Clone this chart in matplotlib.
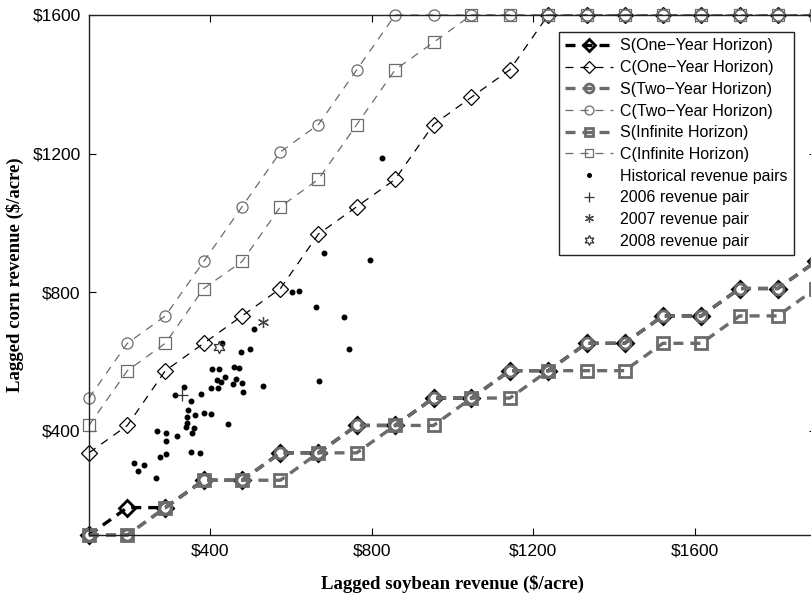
import matplotlib
matplotlib.use("Agg")
import matplotlib.pyplot as plt

# soybean revenue grid ($/acre)
soy_grid = [100, 195, 289, 384, 479, 574, 668, 763, 858, 953,
            1047, 1142, 1237, 1332, 1426, 1521, 1616, 1711, 1805, 1900]

# switching thresholds (corn revenue, $/acre)
s_one = [100, 179, 179, 258, 258, 337, 337, 416, 416, 495,
         495, 574, 574, 653, 653, 732, 732, 811, 811, 889]
c_one = [337, 416, 574, 653, 732, 811, 968, 1047, 1126, 1284,
         1363, 1442, 1600, 1600, 1600, 1600, 1600, 1600, 1600, 1600]
s_two = [100, 100, 179, 258, 258, 337, 337, 416, 416, 495,
         495, 574, 574, 653, 653, 732, 732, 811, 811, 889]
c_two = [495, 653, 732, 889, 1047, 1205, 1284, 1442, 1600, 1600,
         1600, 1600, 1600, 1600, 1600, 1600, 1600, 1600, 1600, 1600]
s_inf = [100, 100, 179, 258, 258, 258, 337, 337, 416, 416,
         495, 495, 574, 574, 574, 653, 653, 732, 732, 811]
c_inf = [416, 574, 653, 811, 889, 1047, 1126, 1284, 1442, 1521,
         1600, 1600, 1600, 1600, 1600, 1600, 1600, 1600, 1600, 1600]

# historical (soybean, corn) revenue pairs
hist_soy = [682, 795, 661, 731, 508, 744, 477, 499, 405, 422,
            460, 472, 436, 416, 428, 464, 457, 478, 336, 402,
            419, 530, 669, 482, 377, 352, 385, 402, 344, 362,
            342, 342, 340, 361, 355, 444, 352, 375, 313, 268,
            290, 290, 318, 276, 290, 212, 237, 222, 266, 429,
            825, 603, 619]
hist_corn = [913, 893, 757, 730, 694, 636, 627, 636, 578, 578,
             585, 581, 555, 546, 542, 549, 536, 539, 526, 523,
             523, 529, 545, 513, 506, 487, 451, 448, 461, 445,
             441, 424, 411, 409, 393, 419, 340, 337, 503, 399,
             393, 372, 386, 326, 334, 309, 302, 285, 264, 653,
             1187, 802, 805]

pair_2006 = [331, 504]
pair_2007 = [530, 713]
pair_2008 = [422, 643]

x_ticks = [400, 800, 1200, 1600]
y_ticks = [400, 800, 1200, 1600]

black = "#000000"
gray = "#6b6b6b"
sans = ["Liberation Sans", "DejaVu Sans"]
serif = ["Liberation Serif", "DejaVu Serif"]

fig = plt.figure(figsize=(8.11, 5.96), dpi=100)
ax = fig.add_axes([89 / 811, 61 / 596, 727 / 811, 520 / 596])

thick = dict(lw=2.4, dashes=(3.0, 2.1), ms=8, mew=2.0, mfc="none", clip_on=False)
thin = dict(lw=0.9, dashes=(6.4, 5.6), ms=8, mew=0.9, mfc="none", clip_on=False)

ax.plot(soy_grid, s_one, marker="D", color=black, label="S(One\u2212Year Horizon)", **thick)
ax.plot(soy_grid, c_one, marker="D", color=black, label="C(One\u2212Year Horizon)", **thin)
ax.plot(soy_grid, s_two, marker="o", color=gray, label="S(Two\u2212Year Horizon)", **thick)
ax.plot(soy_grid, c_two, marker="o", color=gray, label="C(Two\u2212Year Horizon)", **thin)
ax.plot(soy_grid, s_inf, marker="s", color=gray, label="S(Infinite Horizon)", **thick)
ax.plot(soy_grid, c_inf, marker="s", color=gray, label="C(Infinite Horizon)", **thin)

ax.plot(hist_soy, hist_corn, ls="none", marker=".", ms=6.5, color=black,
        label="Historical revenue pairs")
ax.plot(pair_2006[0], pair_2006[1], ls="none", marker="+", ms=9, mew=0.9,
        color="#333333", label="2006 revenue pair")
ax.plot(pair_2007[0], pair_2007[1], ls="none", marker=(6, 2, 0), ms=8, mew=0.9,
        color="#444444", label="2007 revenue pair")
ax.plot(pair_2008[0], pair_2008[1], ls="none", marker=(6, 1, 0), ms=9, mew=0.9,
        mfc="none", color="#333333", label="2008 revenue pair")

ax.set_xlim(100, 1900)
ax.set_ylim(100, 1600)
ax.set_xticks(x_ticks)
ax.set_yticks(y_ticks)
ax.set_xticklabels(["$" + str(v) for v in x_ticks], family=sans, fontsize=12.5)
ax.set_yticklabels(["$" + str(v) for v in y_ticks], family=sans, fontsize=12.5)
ax.tick_params(direction="in", top=True, right=True, length=5, width=0.8, pad=6)
for sp in ax.spines.values():
    sp.set_linewidth(1.0)
    sp.set_color("#222222")

ax.set_xlabel("Lagged soybean revenue ($/acre)", family=serif, fontweight="bold",
              fontsize=13.5, labelpad=12)
ax.set_ylabel("Lagged corn revenue ($/acre)", family=serif, fontweight="bold",
              fontsize=13.5, labelpad=6)

leg = ax.legend(loc="upper right", bbox_to_anchor=(794 / 811, 1 - 32 / 596),
                bbox_transform=fig.transFigure, prop={"family": sans, "size": 11.5},
                fancybox=False, edgecolor="#222222", framealpha=1, numpoints=1,
                handlelength=3.0, handletextpad=0.45, labelspacing=0.42,
                borderpad=0.4, borderaxespad=0, markerscale=0.8)
leg.get_frame().set_linewidth(1.0)

fig.savefig("out.png", dpi=100)
